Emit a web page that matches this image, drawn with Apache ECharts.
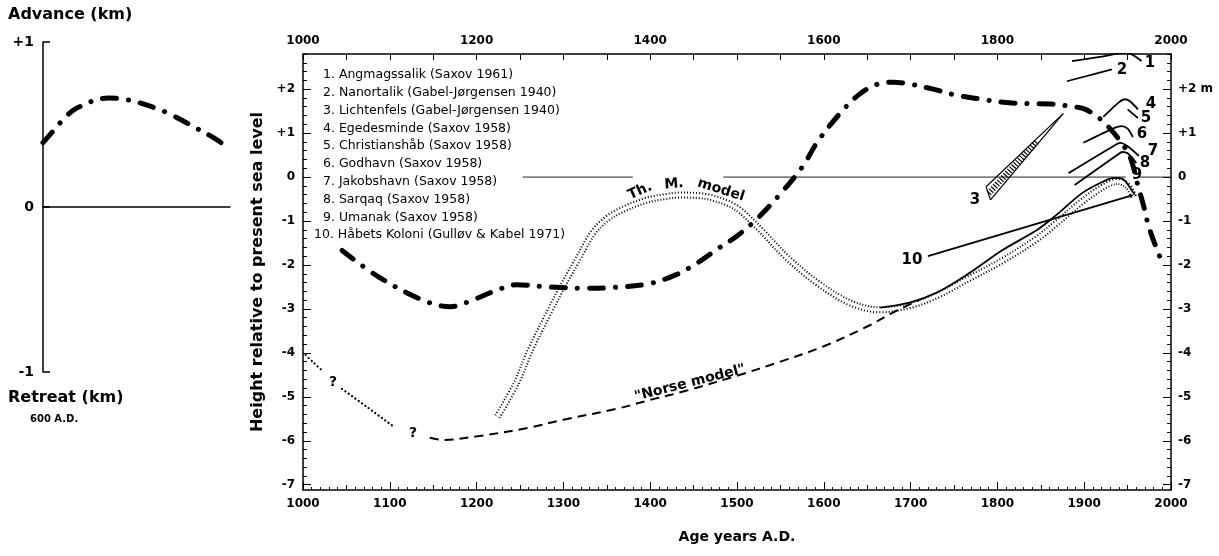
<!DOCTYPE html>
<html><head><meta charset="utf-8">
<script src="https://cdn.jsdelivr.net/npm/echarts@6/dist/echarts.min.js"></script>
<style>html,body{margin:0;padding:0;background:#fff}#c{width:1219px;height:556px}</style>
</head><body><div id="c"></div><script>
// ---------- data ----------
const leftPanelCurve = [[600,0.39],[605,0.42],[626,0.545],[639,0.6],[675,0.66],[697,0.65],[729,0.6],[747,0.56],[779,0.47],[796,0.42],[813,0.36]];
const thickCurve = [[1045,-1.67],[1087,-2.27],[1138,-2.8],[1170,-2.95],[1194,-2.81],[1220,-2.6],[1246,-2.45],[1284,-2.5],[1320,-2.53],[1359,-2.51],[1400,-2.42],[1430,-2.22],[1453,-1.97],[1478,-1.63],[1500,-1.34],[1523,-0.95],[1550,-0.38],[1576,0.25],[1592,0.78],[1617,1.41],[1640,1.87],[1660,2.1],[1680,2.16],[1700,2.11],[1726,2.0],[1751,1.87],[1782,1.77],[1807,1.7],[1837,1.67],[1863,1.66],[1880,1.62],[1900,1.55],[1916,1.36],[1927,1.16],[1940,0.86],[1953,0.45],[1962,-0.2],[1968,-0.62],[1974,-1.1],[1984,-1.66],[1991,-1.98]];
const thModel = [[1224,-5.45],[1246,-4.68],[1262,-3.93],[1285,-3.02],[1300,-2.45],[1316,-1.89],[1334,-1.27],[1350,-0.95],[1369,-0.73],[1395,-0.53],[1419,-0.44],[1435,-0.41],[1455,-0.42],[1469,-0.46],[1490,-0.6],[1503,-0.75],[1527,-1.2],[1557,-1.82],[1592,-2.4],[1630,-2.86],[1665,-3.02],[1700,-2.92],[1730,-2.7],[1768,-2.3],[1806,-1.9],[1846,-1.4],[1868,-1.05],[1898,-0.55],[1922,-0.22],[1938,-0.1],[1950,-0.2],[1957,-0.45]];
const norseModel = [[1146,-5.93],[1161,-5.98],[1200,-5.9],[1261,-5.7],[1300,-5.52],[1362,-5.27],[1400,-5.07],[1438,-4.88],[1500,-4.52],[1550,-4.2],[1600,-3.85],[1650,-3.4],[1684,-3.04],[1710,-2.8]];
const earlyDotted = [[1003,-4.05],[1012,-4.22],[1023,-4.42],null,[1045,-4.82],[1075,-5.25],[1106,-5.7]];
const umanakCurve = [[1665,-2.97],[1700,-2.85],[1730,-2.63],[1768,-2.18],[1806,-1.66],[1846,-1.2],[1868,-0.86],[1898,-0.36],[1922,-0.1],[1935,-0.02],[1945,-0.05],[1952,-0.22],[1958,-0.4]];
const zeroLine = [[1253,0],[1380,0],null,[1484,0],[1948,0],null,[1962,0],[2000,0]];
const station1 = [[1886,2.64],[1920,2.74],[1948,2.83],[1966,2.64]];
const station2 = [[1880,2.18],[1932,2.45]];
const station3 = [[1787,-0.22],[1876,1.45],[1792,-0.52],[1787,-0.22]];
const station3Hatch = [[1790,-0.37],[1845,0.8]];
const station4 = [[1922,1.37],[1940,1.7],[1947,1.77],[1953,1.72],[1962,1.54]];
const station5 = [[1950,1.54],[1962,1.34]];
const station6 = [[1899,0.78],[1935,1.12],[1943,1.16],[1950,1.1],[1956,0.91]];
const station7 = [[1882,0.09],[1935,0.72],[1942,0.78],[1950,0.7],[1963,0.48]];
const station8 = [[1889,-0.18],[1938,0.5],[1944,0.57],[1950,0.54],[1960,0.32]];
const station10 = [[1720,-1.8],[1956,-0.41]];
const legendEntries = ['1. Angmagssalik (Saxov 1961)','2. Nanortalik (Gabel-Jørgensen 1940)','3. Lichtenfels (Gabel-Jørgensen 1940)','4. Egedesminde (Saxov 1958)','5. Christianshåb (Saxov 1958)','6. Godhavn (Saxov 1958)','7. Jakobshavn (Saxov 1958)','8. Sarqaq (Saxov 1958)','9. Umanak (Saxov 1958)','10. Håbets Koloni (Gulløv & Kabel 1971)'];
const majorYTicks = [-7,-6,-5,-4,-3,-2,-1,0,1,2];
const leftYLabels = {'2':'+2','1':'+1','0':'0','-1':'-1','-2':'-2','-3':'-3','-4':'-4','-5':'-5','-6':'-6','-7':'-7'};
const rightYLabels = {'2':'+2 m','1':'+1','0':'0','-1':'-1','-2':'-2','-3':'-3','-4':'-4','-5':'-5','-6':'-6','-7':'-7'};
const minorYTicks = [];
for (let i = -35; i <= 14; i++) { if (i % 5 !== 0) minorYTicks.push(+(i * 0.2).toFixed(1)); }

// ---------- chart ----------
const F = 'DejaVu Sans';
const chart = echarts.init(document.getElementById('c'), null, {renderer:'canvas'});
const YMIN = -7.12, YMAX = 2.8;
const lab = {fontFamily:F, fontWeight:'bold', fontSize:12, color:'#000'};
const dashDot = {color:'#000', width:5, type:[14,12,0.1,12], cap:'round', join:'round'};
function line(data, style, extra) {
  return Object.assign({type:'line', xAxisIndex:1, yAxisIndex:1, data:data, showSymbol:false, symbol:'none', silent:true, animation:false, lineStyle:style, z:3}, extra||{});
}
const thin = {color:'#000', width:1.8};
const option = {
  animation:false,
  grid:[{left:43, top:42, width:187, height:330},{left:303, top:54, right:48, bottom:66}],
  xAxis:[
    {gridIndex:0, type:'value', min:600, max:815, axisLabel:{show:false}, axisTick:{show:false}, splitLine:{show:false}, axisLine:{lineStyle:{color:'#000', width:1.5}}},
    {gridIndex:1, type:'value', min:1000, max:2000, interval:100, position:'bottom', axisLine:{onZero:false, lineStyle:{color:'#000', width:1.5}}, axisTick:{inside:true, length:8, lineStyle:{color:'#000'}}, minorTick:{show:true, splitNumber:10, length:3, lineStyle:{color:'#000'}}, axisLabel:Object.assign({margin:8, formatter:v => String(v)}, lab), splitLine:{show:false}, minorSplitLine:{show:false},
      name:'Age years A.D.', nameLocation:'middle', nameGap:40, nameTextStyle:{fontFamily:F, fontWeight:'bold', fontSize:14, color:'#000'}},
    {gridIndex:1, type:'value', min:1000, max:2000, interval:50, position:'bottom', axisLine:{show:false, onZero:false}, axisTick:{inside:true, length:5, lineStyle:{color:'#000'}}, axisLabel:{show:false}, splitLine:{show:false}},
    {gridIndex:1, type:'value', min:1000, max:2000, interval:50, position:'top', axisLine:{onZero:false, lineStyle:{color:'#000', width:1.5}}, axisTick:{inside:true, length:6, lineStyle:{color:'#000'}}, axisLabel:Object.assign({margin:7, formatter:v => (v % 200 === 0 ? String(v) : '')}, lab), splitLine:{show:false}}
  ],
  yAxis:[
    {gridIndex:0, type:'value', min:-1, max:1, interval:1, axisLine:{onZero:false, lineStyle:{color:'#000', width:1.5}}, axisTick:{inside:true, length:7, lineStyle:{color:'#000', width:1.5}}, axisLabel:{fontFamily:F, fontWeight:'bold', fontSize:14, color:'#000', margin:9, formatter:v => (v > 0 ? '+' + v : String(v))}, splitLine:{show:false}},
    {gridIndex:1, type:'value', min:YMIN, max:YMAX, position:'left', axisLine:{onZero:false, lineStyle:{color:'#000', width:1.5}}, axisTick:{inside:true, length:8, customValues:majorYTicks, lineStyle:{color:'#000'}}, axisLabel:Object.assign({margin:8, customValues:majorYTicks, formatter:v => leftYLabels[String(Math.round(v))]}, lab), splitLine:{show:false},
      name:'Height relative to present sea level', nameLocation:'middle', nameGap:37, nameRotate:90, nameTextStyle:{fontFamily:F, fontWeight:'bold', fontSize:16, color:'#000'}},
    {gridIndex:1, type:'value', min:YMIN, max:YMAX, position:'left', axisLine:{show:false, onZero:false}, axisTick:{inside:true, length:4, customValues:minorYTicks, lineStyle:{color:'#000'}}, axisLabel:{show:false}, splitLine:{show:false}},
    {gridIndex:1, type:'value', min:YMIN, max:YMAX, position:'right', axisLine:{onZero:false, lineStyle:{color:'#000', width:1.5}}, axisTick:{inside:true, length:8, customValues:majorYTicks, lineStyle:{color:'#000'}}, axisLabel:Object.assign({margin:7, customValues:majorYTicks, formatter:v => rightYLabels[String(Math.round(v))]}, lab), splitLine:{show:false}},
    {gridIndex:1, type:'value', min:YMIN, max:YMAX, position:'right', axisLine:{show:false, onZero:false}, axisTick:{inside:true, length:4, customValues:minorYTicks, lineStyle:{color:'#000'}}, axisLabel:{show:false}, splitLine:{show:false}}
  ],
  series:[
    {type:'line', xAxisIndex:0, yAxisIndex:0, data:leftPanelCurve, smooth:0.4, showSymbol:false, symbol:'none', lineStyle:dashDot, animation:false},
    line(thModel, {color:'#000', width:7, type:[1,2]}, {smooth:0.35, z:1}),
    line(thModel, {color:'#fff', width:3}, {smooth:0.35, z:1}),
    line(zeroLine, {color:'#222', width:1}, {connectNulls:false}),
    line(norseModel, {color:'#000', width:2, type:[9,6]}, {smooth:0.35}),
    line(earlyDotted, {color:'#000', width:2.2, type:[0.1,4], cap:'round'}, {smooth:0.3, connectNulls:false}),
    line(umanakCurve, thin, {smooth:0.35}),
    line(station10, thin),
    line(station1, thin, {smooth:0.3}),
    line(station2, thin),
    line(station3, {color:'#000', width:1.2}),
    line(station3Hatch, {color:'#000', width:6, type:[1.2,1.8]}),
    line(station4, thin, {smooth:0.3}),
    line(station5, thin),
    line(station6, thin, {smooth:0.3}),
    line(station7, thin, {smooth:0.3}),
    line(station8, thin, {smooth:0.3}),
    line(thickCurve, dashDot, {smooth:0.35, z:5})
  ]
};
chart.setOption(option);

// ---------- annotations ----------
function T(text, x, y, font, align, rot) {
  return {type:'text', x:x, y:y, rotation:rot||0, z:100, silent:true,
    style:{text:text, fill:'#000', font:font, align:align||'center', verticalAlign:'middle', textAlign:align||'center', textVerticalAlign:'middle'}};
}
const B14 = 'bold 14px "' + F + '"';
const B15 = 'bold 15px "' + F + '"';
const B16 = 'bold 16px "' + F + '"';
const g = [];
g.push(T('Advance (km)', 8, 15, B16, 'left'));
g.push(T('Retreat (km)', 8, 398, B16, 'left'));
g.push(T('600 A.D.', 30, 419, 'bold 10px "' + F + '"', 'left'));
legendEntries.forEach((s, i) => {
  g.push(T(s, i === 9 ? 314 : 323, 75 + i * 17.8, '12.5px "' + F + '"', 'left'));
});
const stationLabelPix = [['1',1150,63],['2',1122,70],['3',975,200],['4',1151,104],['5',1146,118],['6',1142,134],['7',1153,151],['8',1145,163],['9',1137,175],['10',912,260]];
stationLabelPix.forEach(p => g.push(T(p[0], p[1], p[2], B15)));
g.push(T('?', 333, 382, B14));
g.push(T('?', 413, 433, B14));
g.push(T('Th.', 640, 191, B14, 'center', 0.42));
g.push(T('M.', 674, 184, B14, 'center', 0.08));
g.push(T('model', 721, 190, B14, 'center', -0.3));
g.push(T('"Norse model"', 690, 383, B14, 'center', 0.25));
chart.setOption({graphic:g});
</script></body></html>
